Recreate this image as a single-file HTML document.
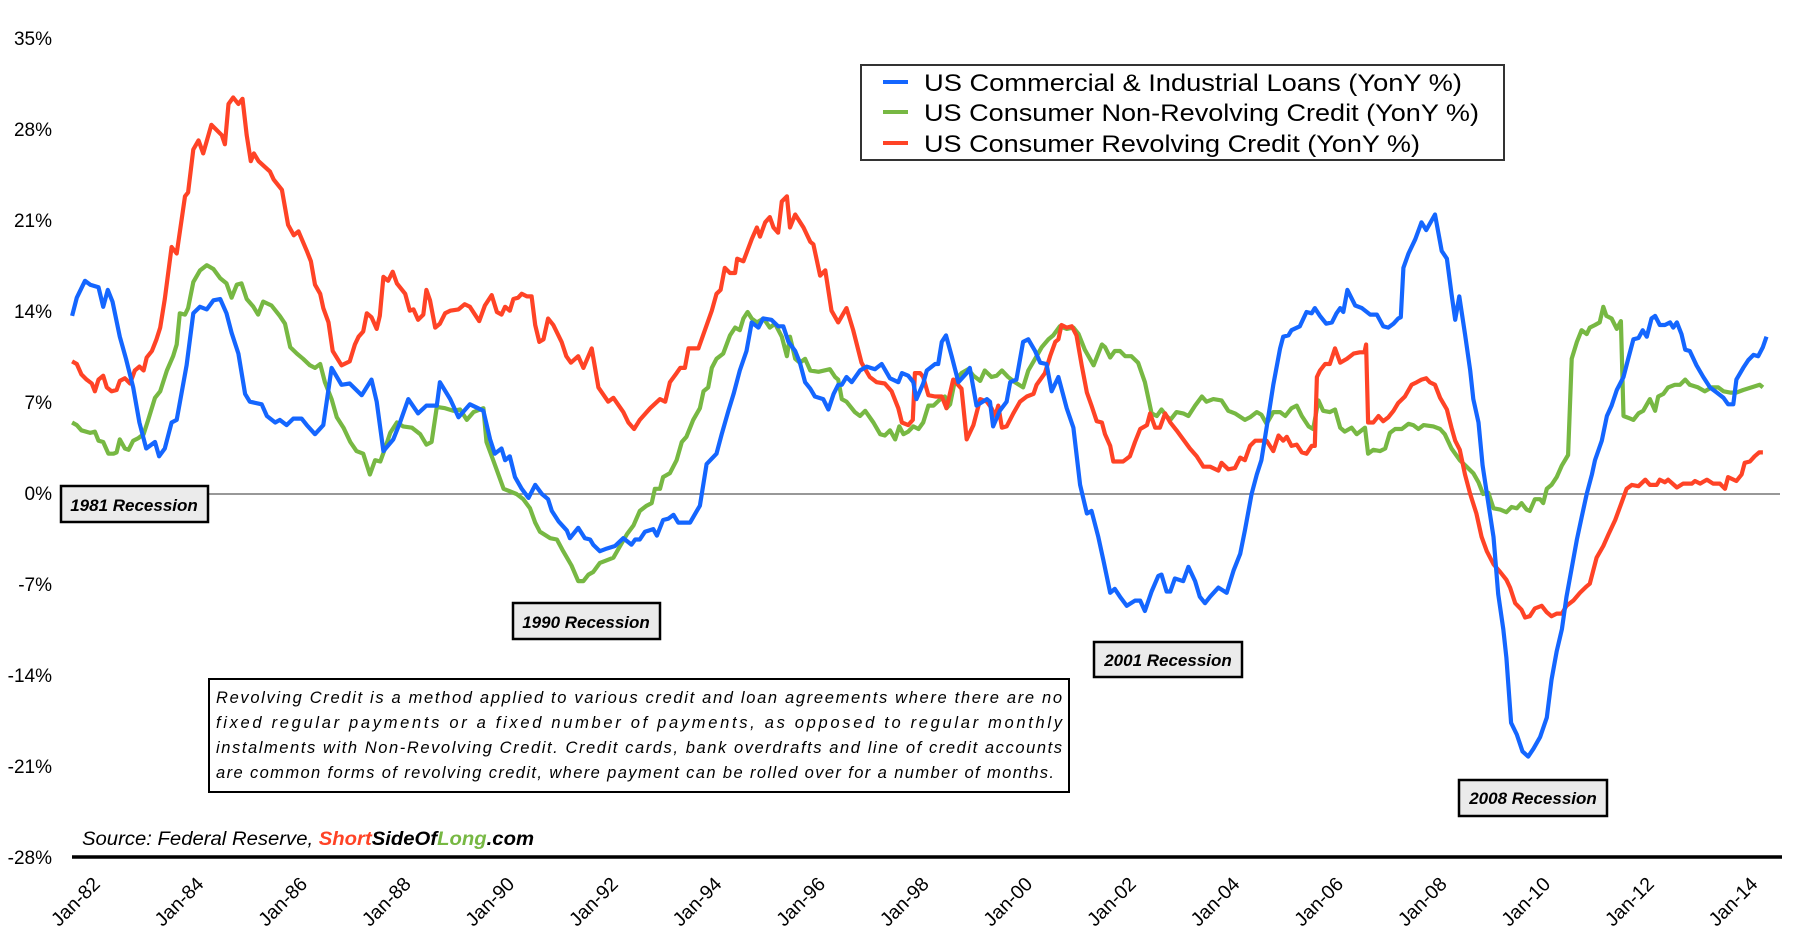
<!DOCTYPE html>
<html><head><meta charset="utf-8">
<style>
html,body{margin:0;padding:0;background:#fff;}
svg{display:block;font-family:"Liberation Sans","DejaVu Sans",sans-serif;}
</style></head>
<body>
<svg id="chart" width="1802" height="950" viewBox="0 0 1802 950" xmlns="http://www.w3.org/2000/svg">
<rect x="0" y="0" width="1802" height="950" fill="#fff"/>
<g id="yaxis"></g>
<g id="xaxis"></g>
<line x1="72" y1="494" x2="1780" y2="494" stroke="#777" stroke-width="1.5"/>
<g id="series"></g>
<line x1="72" y1="857" x2="1782" y2="857" stroke="#000" stroke-width="3.5"/>

<g>
<rect x="861" y="65" width="643" height="95" fill="#fff" stroke="#333" stroke-width="2"/>
<g>
<line x1="883" y1="82" x2="908" y2="82" stroke="#1466ff" stroke-width="4"/>
<text x="924" y="91" font-size="24" fill="#000" textLength="538" lengthAdjust="spacingAndGlyphs">US Commercial &amp; Industrial Loans (YonY %)</text></g>
<g>
<line x1="883" y1="112" x2="908" y2="112" stroke="#77b843" stroke-width="4"/>
<text x="924" y="121" font-size="24" fill="#000" textLength="555" lengthAdjust="spacingAndGlyphs">US Consumer Non-Revolving Credit (YonY %)</text></g>
<g>
<line x1="883" y1="143" x2="908" y2="143" stroke="#ff4326" stroke-width="4"/>
<text x="924" y="152" font-size="24" fill="#000" textLength="496" lengthAdjust="spacingAndGlyphs">US Consumer Revolving Credit (YonY %)</text></g>
</g>

<g>
<rect x="61" y="486" width="147" height="36" fill="#ebebeb" stroke="#000" stroke-width="2.5"/>
<text x="134" y="511" font-size="17" font-style="italic" font-weight="bold" text-anchor="middle">1981 Recession</text></g>
<g>
<rect x="513" y="603" width="147" height="36" fill="#ebebeb" stroke="#000" stroke-width="2.5"/>
<text x="586" y="628" font-size="17" font-style="italic" font-weight="bold" text-anchor="middle">1990 Recession</text></g>
<g>
<rect x="1094" y="642" width="148" height="35" fill="#ebebeb" stroke="#000" stroke-width="2.5"/>
<text x="1168" y="666" font-size="17" font-style="italic" font-weight="bold" text-anchor="middle">2001 Recession</text></g>
<g>
<rect x="1459" y="780" width="148" height="36" fill="#ebebeb" stroke="#000" stroke-width="2.5"/>
<text x="1533" y="804" font-size="17" font-style="italic" font-weight="bold" text-anchor="middle">2008 Recession</text></g>

<g>
<rect x="209" y="679" width="860" height="113" fill="#fff" stroke="#000" stroke-width="2"/>
<g font-size="16.5" font-style="italic" fill="#000">
<text x="216" y="703" textLength="846" lengthAdjust="spacing">Revolving Credit is a method applied to various credit and loan agreements where there are no</text>
<text x="216" y="728" textLength="846" lengthAdjust="spacing">fixed regular payments or a fixed number of payments, as opposed to regular monthly</text>
<text x="216" y="753" textLength="846" lengthAdjust="spacing">instalments with Non-Revolving Credit. Credit cards, bank overdrafts and line of credit accounts</text>
<text x="216" y="778" textLength="838" lengthAdjust="spacing">are common forms of revolving credit, where payment can be rolled over for a number of months.</text>
</g></g>

<text x="82" y="845" font-size="19.5" font-style="italic" fill="#000" textLength="452" lengthAdjust="spacingAndGlyphs">Source: Federal Reserve, <tspan font-weight="bold" fill="#ff4326">Short</tspan><tspan font-weight="bold">SideOf</tspan><tspan font-weight="bold" fill="#77b843">Long</tspan><tspan font-weight="bold">.com</tspan></text>
</svg>
<script>
const yTicks = [35,28,21,14,7,0,-7,-14,-21,-28];
const xTickYears = [1982,1984,1986,1988,1990,1992,1994,1996,1998,2000,2002,2004,2006,2008,2010,2012,2014];
const xTickLabels = ["Jan-82","Jan-84","Jan-86","Jan-88","Jan-90","Jan-92","Jan-94","Jan-96","Jan-98","Jan-00","Jan-02","Jan-04","Jan-06","Jan-08","Jan-10","Jan-12","Jan-14"];

const ciTime = [1981.50,1981.59,1981.75,1981.85,1982.01,1982.10,1982.19,1982.28,1982.42,1982.54,1982.68,1982.80,1982.93,1983.10,1983.18,1983.29,1983.42,1983.52,1983.71,1983.84,1983.97,1984.10,1984.23,1984.36,1984.48,1984.58,1984.71,1984.84,1984.93,1985.16,1985.26,1985.42,1985.51,1985.64,1985.77,1985.93,1986.03,1986.19,1986.35,1986.51,1986.70,1986.86,1987.09,1987.28,1987.38,1987.51,1987.70,1987.83,1987.99,1988.18,1988.34,1988.54,1988.60,1988.80,1988.96,1989.18,1989.44,1989.57,1989.66,1989.79,1989.86,1989.95,1990.05,1990.18,1990.31,1990.44,1990.57,1990.69,1990.76,1990.89,1991.05,1991.11,1991.27,1991.40,1991.50,1991.56,1991.69,1991.82,1991.98,1992.14,1992.30,1992.37,1992.46,1992.56,1992.72,1992.79,1992.91,1993.01,1993.11,1993.20,1993.43,1993.56,1993.62,1993.75,1993.94,1994.04,1994.17,1994.27,1994.39,1994.52,1994.62,1994.75,1994.84,1995.00,1995.13,1995.23,1995.33,1995.46,1995.55,1995.65,1995.75,1995.84,1996.00,1996.10,1996.20,1996.29,1996.36,1996.45,1996.55,1996.71,1996.84,1997.00,1997.13,1997.29,1997.45,1997.52,1997.64,1997.74,1997.80,1997.93,1998.00,1998.16,1998.22,1998.29,1998.37,1998.48,1998.61,1998.77,1998.83,1998.96,1999.16,1999.22,1999.28,1999.41,1999.54,1999.61,1999.73,1999.86,1999.96,2000.09,2000.19,2000.31,2000.41,2000.54,2000.70,2000.83,2000.96,2001.09,2001.18,2001.31,2001.41,2001.54,2001.63,2001.73,2001.86,2002.02,2002.12,2002.21,2002.34,2002.47,2002.53,2002.63,2002.70,2002.79,2002.95,2003.05,2003.18,2003.27,2003.37,2003.47,2003.63,2003.79,2003.92,2004.05,2004.14,2004.27,2004.37,2004.46,2004.56,2004.69,2004.82,2004.88,2004.98,2005.04,2005.20,2005.33,2005.43,2005.49,2005.59,2005.71,2005.82,2005.91,2005.98,2006.04,2006.12,2006.27,2006.40,2006.56,2006.69,2006.81,2006.91,2007.01,2007.10,2007.15,2007.20,2007.30,2007.43,2007.55,2007.64,2007.81,2007.94,2008.04,2008.13,2008.20,2008.28,2008.39,2008.49,2008.55,2008.65,2008.73,2008.84,2008.94,2009.03,2009.13,2009.19,2009.28,2009.39,2009.50,2009.61,2009.71,2009.84,2009.97,2010.06,2010.16,2010.26,2010.35,2010.45,2010.55,2010.64,2010.74,2010.84,2010.90,2011.03,2011.13,2011.22,2011.32,2011.45,2011.54,2011.64,2011.74,2011.82,2011.90,2011.99,2012.06,2012.15,2012.25,2012.35,2012.41,2012.48,2012.57,2012.64,2012.73,2012.86,2012.99,2013.12,2013.25,2013.38,2013.47,2013.57,2013.63,2013.76,2013.86,2013.96,2014.05,2014.14,2014.21];
const ciValues = [13.7,15.1,16.4,16.1,15.9,14.4,15.7,14.8,12.1,10.4,8.2,5.5,3.5,4.0,2.9,3.5,5.5,5.7,9.9,13.9,14.4,14.2,14.9,15.0,13.9,12.4,10.8,7.7,7.1,6.9,6.0,5.5,5.7,5.3,5.8,5.8,5.3,4.6,5.3,9.7,8.4,8.5,7.6,8.8,7.1,3.3,4.2,5.5,7.3,6.2,6.8,6.8,8.6,7.3,5.9,6.9,6.4,4.2,3.1,3.5,2.6,2.9,1.3,0.4,-0.3,0.7,0.0,-0.4,-1.3,-2.1,-2.8,-3.4,-2.6,-3.4,-3.5,-3.9,-4.4,-4.2,-4.0,-3.4,-3.9,-3.5,-3.5,-2.9,-2.7,-3.2,-2.0,-1.9,-1.6,-2.2,-2.2,-1.3,-0.9,2.3,3.1,4.6,6.4,7.7,9.5,11.0,13.2,12.8,13.5,13.4,12.9,12.9,11.7,11.0,10.1,8.6,8.1,7.5,7.3,6.5,7.7,8.4,8.4,9.0,8.6,9.5,9.8,9.6,10.0,8.9,8.6,9.3,9.1,8.6,7.3,8.5,9.5,10.0,10.0,11.7,12.2,10.6,8.6,9.3,9.7,6.8,7.3,7.1,5.2,6.4,7.1,8.6,8.8,11.7,11.9,11.0,10.1,10.0,7.9,9.0,6.6,5.1,0.7,-1.5,-1.3,-3.3,-5.1,-7.6,-7.3,-7.9,-8.6,-8.2,-8.2,-9.0,-7.5,-6.3,-6.2,-7.5,-7.5,-6.5,-6.7,-5.6,-6.7,-7.9,-8.4,-7.9,-7.2,-7.6,-5.9,-4.6,-2.8,0.0,1.5,2.6,5.1,8.4,11.2,12.1,12.2,12.6,12.9,14.0,13.9,14.3,13.7,13.1,13.2,13.9,14.3,14.0,15.7,14.5,14.3,13.8,13.8,12.9,12.8,13.1,13.5,13.6,17.4,18.5,19.6,20.9,20.3,21.5,18.7,18.1,15.4,13.4,15.2,12.3,9.5,7.3,5.5,2.2,-0.7,-3.3,-7.7,-10.4,-12.6,-17.6,-18.5,-19.8,-20.2,-19.6,-18.7,-17.2,-14.3,-12.1,-10.4,-7.9,-5.7,-3.5,-1.8,0.0,1.5,2.6,4.1,6.0,6.8,8.0,9.0,10.4,11.9,12.0,12.6,12.1,13.5,13.7,13.0,13.0,13.2,12.8,13.2,12.3,11.1,11.0,9.9,9.0,8.2,7.8,7.4,6.9,6.9,8.8,9.7,10.3,10.7,10.6,11.3,12.1];

const nrTime = [1981.50,1981.59,1981.68,1981.85,1981.94,1982.01,1982.10,1982.20,1982.30,1982.36,1982.42,1982.52,1982.59,1982.68,1982.78,1982.88,1982.97,1983.10,1983.20,1983.33,1983.45,1983.52,1983.58,1983.68,1983.74,1983.84,1983.97,1984.10,1984.23,1984.36,1984.48,1984.58,1984.68,1984.77,1984.87,1985.00,1985.09,1985.19,1985.35,1985.51,1985.61,1985.71,1985.84,1985.96,1986.09,1986.19,1986.29,1986.38,1986.51,1986.61,1986.74,1986.87,1986.99,1987.12,1987.25,1987.35,1987.45,1987.54,1987.64,1987.77,1987.89,1988.06,1988.22,1988.34,1988.44,1988.54,1988.70,1988.86,1988.99,1989.12,1989.25,1989.44,1989.50,1989.63,1989.83,1990.08,1990.21,1990.34,1990.44,1990.53,1990.73,1990.86,1990.98,1991.14,1991.27,1991.37,1991.47,1991.56,1991.69,1991.82,1991.95,1992.08,1992.21,1992.34,1992.46,1992.59,1992.69,1992.75,1992.85,1992.91,1993.04,1993.17,1993.27,1993.36,1993.43,1993.49,1993.62,1993.69,1993.78,1993.85,1993.94,1994.07,1994.20,1994.30,1994.39,1994.46,1994.54,1994.62,1994.72,1994.85,1994.97,1995.07,1995.20,1995.30,1995.36,1995.46,1995.55,1995.65,1995.75,1995.91,1996.13,1996.23,1996.29,1996.36,1996.45,1996.61,1996.71,1996.81,1996.97,1997.10,1997.19,1997.29,1997.39,1997.47,1997.55,1997.64,1997.74,1997.84,1997.93,1998.03,1998.13,1998.26,1998.35,1998.38,1998.45,1998.54,1998.67,1998.80,1998.90,1999.03,1999.12,1999.25,1999.35,1999.45,1999.57,1999.70,1999.86,1999.96,2000.09,2000.22,2000.35,2000.44,2000.57,2000.70,2000.83,2000.93,2001.05,2001.22,2001.38,2001.44,2001.54,2001.63,2001.73,2001.83,2001.95,2002.08,2002.21,2002.34,2002.44,2002.53,2002.63,2002.70,2002.82,2002.95,2003.05,2003.18,2003.31,2003.40,2003.53,2003.69,2003.82,2003.95,2004.14,2004.24,2004.37,2004.46,2004.56,2004.69,2004.82,2004.92,2005.04,2005.14,2005.24,2005.37,2005.46,2005.56,2005.65,2005.78,2005.88,2005.98,2006.07,2006.20,2006.30,2006.46,2006.52,2006.62,2006.75,2006.85,2006.94,2007.04,2007.17,2007.30,2007.39,2007.49,2007.59,2007.78,2007.91,2008.00,2008.13,2008.29,2008.42,2008.55,2008.65,2008.74,2008.84,2008.94,2009.07,2009.19,2009.29,2009.39,2009.48,2009.58,2009.64,2009.74,2009.84,2009.90,2009.97,2010.06,2010.16,2010.26,2010.38,2010.45,2010.55,2010.64,2010.74,2010.80,2010.90,2010.99,2011.06,2011.12,2011.22,2011.32,2011.40,2011.45,2011.58,2011.64,2011.74,2011.83,2011.96,2012.06,2012.12,2012.22,2012.31,2012.44,2012.54,2012.64,2012.73,2012.89,2013.02,2013.15,2013.28,2013.38,2013.51,2013.63,2013.76,2013.92,2014.08,2014.14];
const nrValues = [5.5,5.3,4.9,4.7,4.8,4.1,4.0,3.1,3.1,3.2,4.2,3.5,3.4,4.1,4.3,4.6,5.7,7.4,7.9,9.5,10.6,11.5,13.9,13.8,14.3,16.3,17.2,17.6,17.3,16.6,16.2,15.1,16.1,16.2,15.0,14.4,13.8,14.8,14.5,13.7,13.1,11.3,10.8,10.4,9.9,9.7,10.0,8.6,7.3,5.9,5.1,4.0,3.3,3.1,1.5,2.6,2.5,3.5,4.7,5.5,5.2,5.1,4.6,3.8,4.0,6.7,6.6,6.4,6.5,5.7,6.3,6.6,4.0,2.6,0.4,0.0,-0.4,-1.1,-2.2,-2.9,-3.4,-3.5,-4.4,-5.5,-6.7,-6.7,-6.2,-6.0,-5.3,-5.1,-4.9,-4.0,-3.1,-2.4,-1.3,-0.9,-0.7,0.4,0.4,1.3,1.6,2.6,4.0,4.4,5.1,5.7,6.6,7.9,8.2,9.7,10.4,10.8,12.2,12.8,12.6,13.5,14.0,13.5,13.2,13.5,12.8,13.1,12.1,10.6,12.1,10.4,10.1,10.4,9.5,9.4,9.6,9.0,8.8,7.3,7.1,6.3,6.0,6.4,5.5,4.6,4.5,4.9,4.2,5.2,4.6,4.8,5.2,5.0,5.5,6.8,6.8,7.3,7.5,6.6,6.9,8.7,9.3,9.6,9.1,8.7,9.5,9.0,9.1,9.5,9.0,8.6,8.2,9.5,10.4,11.3,11.9,12.2,12.9,12.7,12.8,12.3,11.1,9.9,11.5,11.3,10.5,11.0,11.0,10.6,10.6,10.1,8.6,6.2,6.0,6.5,6.0,5.7,6.3,6.2,6.0,6.8,7.5,7.1,7.3,7.2,6.4,6.2,5.7,5.9,6.3,6.1,5.4,6.3,6.3,6.0,6.6,6.8,6.0,5.2,5.0,7.2,6.4,6.3,6.5,5.1,4.8,5.1,4.6,5.1,3.1,3.4,3.3,3.5,4.7,5.0,5.0,5.4,5.3,5.0,5.3,5.2,5.0,4.6,3.5,2.6,2.1,1.6,0.9,0.0,0.1,-1.1,-1.2,-1.4,-1.0,-1.1,-0.7,-1.2,-1.3,-0.4,-0.4,-0.7,0.4,0.7,1.3,2.2,3.0,10.4,11.7,12.6,12.3,12.8,13.0,13.2,14.4,13.7,13.5,12.7,13.3,6.0,5.8,5.7,6.2,6.4,7.3,6.4,7.5,7.7,8.2,8.4,8.4,8.8,8.4,8.2,7.9,8.2,8.2,7.9,7.8,7.8,8.0,8.2,8.4,8.2];

const rvTime = [1981.50,1981.59,1981.68,1981.78,1981.88,1981.94,1982.01,1982.10,1982.17,1982.26,1982.36,1982.42,1982.52,1982.62,1982.71,1982.80,1982.88,1982.94,1983.04,1983.13,1983.20,1983.29,1983.42,1983.52,1983.68,1983.74,1983.84,1983.94,1984.03,1984.19,1984.39,1984.45,1984.52,1984.61,1984.71,1984.79,1984.87,1984.95,1985.01,1985.10,1985.32,1985.39,1985.55,1985.67,1985.78,1985.87,1986.03,1986.11,1986.19,1986.29,1986.35,1986.45,1986.53,1986.70,1986.86,1986.96,1987.03,1987.12,1987.19,1987.28,1987.38,1987.44,1987.51,1987.60,1987.69,1987.77,1987.93,1988.02,1988.09,1988.18,1988.28,1988.34,1988.41,1988.51,1988.60,1988.70,1988.80,1988.96,1989.08,1989.18,1989.36,1989.47,1989.60,1989.70,1989.79,1989.86,1989.95,1990.02,1990.11,1990.18,1990.28,1990.37,1990.44,1990.52,1990.60,1990.69,1990.79,1990.95,1991.04,1991.13,1991.27,1991.37,1991.53,1991.66,1991.85,1991.95,1992.14,1992.24,1992.35,1992.46,1992.66,1992.85,1992.95,1993.04,1993.17,1993.24,1993.33,1993.40,1993.59,1993.69,1993.85,1993.94,1994.02,1994.10,1994.20,1994.30,1994.34,1994.46,1994.62,1994.72,1994.78,1994.88,1994.97,1995.04,1995.13,1995.20,1995.30,1995.36,1995.46,1995.62,1995.75,1995.81,1995.94,1996.04,1996.16,1996.29,1996.45,1996.58,1996.74,1996.90,1997.03,1997.19,1997.32,1997.45,1997.52,1997.64,1997.73,1997.77,1997.87,1997.93,1998.03,1998.16,1998.29,1998.38,1998.51,1998.67,1998.77,1998.90,1999.03,1999.16,1999.25,1999.32,1999.38,1999.45,1999.54,1999.67,1999.80,1999.93,2000.06,2000.12,2000.28,2000.38,2000.48,2000.54,2000.60,2000.70,2000.80,2000.89,2000.99,2001.09,2001.18,2001.28,2001.38,2001.44,2001.54,2001.60,2001.79,2001.92,2002.02,2002.12,2002.25,2002.31,2002.41,2002.50,2002.60,2002.70,2002.82,2002.95,2003.08,2003.21,2003.34,2003.47,2003.63,2003.69,2003.82,2003.95,2004.05,2004.14,2004.24,2004.34,2004.43,2004.56,2004.69,2004.79,2004.88,2004.95,2005.04,2005.14,2005.24,2005.33,2005.43,2005.49,2005.53,2005.59,2005.69,2005.78,2005.88,2005.98,2006.11,2006.24,2006.36,2006.45,2006.48,2006.52,2006.62,2006.72,2006.81,2006.91,2007.01,2007.10,2007.23,2007.36,2007.46,2007.55,2007.64,2007.71,2007.81,2007.91,2008.04,2008.13,2008.20,2008.29,2008.39,2008.49,2008.61,2008.71,2008.81,2008.94,2009.07,2009.19,2009.26,2009.36,2009.48,2009.55,2009.64,2009.74,2009.87,2009.97,2010.06,2010.16,2010.26,2010.35,2010.48,2010.61,2010.74,2010.80,2010.93,2011.06,2011.16,2011.29,2011.41,2011.51,2011.61,2011.74,2011.87,2011.96,2012.09,2012.15,2012.25,2012.31,2012.48,2012.60,2012.77,2012.83,2012.93,2013.06,2013.18,2013.31,2013.41,2013.47,2013.63,2013.73,2013.79,2013.89,2013.98,2014.07,2014.14];
const rvValues = [10.2,10.0,9.2,8.8,8.5,7.9,8.8,9.1,8.2,7.9,8.0,8.7,8.9,8.5,9.5,9.8,9.5,10.5,11.0,11.9,12.8,15.0,19.0,18.5,22.9,23.2,26.5,27.2,26.2,28.4,27.6,26.9,30.0,30.5,30.0,30.4,27.6,25.6,26.2,25.6,24.8,24.2,23.4,20.7,19.9,20.2,18.7,17.9,16.1,15.4,14.3,13.2,11.0,9.9,10.2,11.5,12.1,12.5,13.9,13.6,12.7,13.7,16.7,16.4,17.1,16.2,15.4,14.1,14.2,13.4,13.8,15.7,14.9,12.8,13.1,13.9,14.1,14.2,14.6,14.4,13.3,14.5,15.3,14.0,13.8,14.4,14.1,15.0,15.1,15.4,15.2,15.2,13.0,11.7,11.9,13.5,13.0,11.7,10.6,10.1,10.6,9.7,11.2,8.2,7.1,7.4,6.3,5.5,5.0,5.7,6.6,7.3,7.1,8.6,9.3,9.7,9.7,11.2,11.2,12.3,14.1,15.4,15.7,17.4,17.0,17.0,18.1,17.9,19.6,20.5,19.8,20.9,21.3,20.5,20.1,22.5,22.9,20.5,21.5,20.5,19.4,19.2,16.8,17.2,14.1,13.2,14.3,12.6,10.1,9.0,8.6,8.5,7.9,6.6,5.5,5.3,5.7,9.3,9.3,9.0,7.6,7.5,7.5,6.6,8.8,8.1,4.2,5.3,7.3,7.1,6.6,6.0,6.8,5.1,5.2,6.2,7.1,7.5,7.7,8.4,9.3,10.6,11.7,11.9,13.0,12.8,12.9,12.2,9.9,7.8,6.8,5.6,5.5,4.6,3.7,2.5,2.5,2.9,4.0,5.0,5.3,6.2,5.1,5.1,6.2,5.5,4.9,4.2,3.5,2.9,2.1,2.1,1.8,2.4,1.9,2.0,2.8,2.6,3.7,4.1,4.1,4.1,3.3,4.5,4.1,4.4,3.7,3.8,3.2,3.1,3.7,3.7,9.0,9.5,10.0,10.0,11.2,10.1,10.4,10.8,10.9,10.9,11.5,5.5,5.5,6.0,5.6,5.9,6.4,7.0,7.5,8.4,8.6,8.8,8.9,8.6,8.4,7.4,6.5,5.1,4.1,3.4,1.5,0.0,-1.5,-3.3,-4.4,-5.4,-6.0,-6.6,-7.2,-8.4,-8.9,-9.5,-9.4,-8.8,-8.6,-9.1,-9.4,-9.2,-9.2,-8.6,-8.2,-7.6,-7.1,-6.9,-4.9,-4.0,-3.1,-2.0,-0.7,0.4,0.7,0.6,1.1,0.7,0.7,1.1,0.9,1.1,0.5,0.8,0.8,1.0,0.8,1.1,0.8,0.8,0.4,1.3,1.0,1.5,2.4,2.5,2.9,3.2,3.2];

const NS = "http://www.w3.org/2000/svg";
function xScale(t){ return 98 + (t - 1982) * 51.8; }
function yScale(v){ return 494 - v * 13.0; }

const yAxis = document.getElementById('yaxis');
yTicks.forEach(function(v){
  const t = document.createElementNS(NS,'text');
  
  
  t.setAttribute('x', 52);
  t.setAttribute('y', yScale(v) + 6);
  t.setAttribute('text-anchor','end');
  t.setAttribute('font-size','19');
  t.textContent = v + '%';
  yAxis.appendChild(t);
});

const xAxis = document.getElementById('xaxis');
xTickYears.forEach(function(yr, i){
  const x = xScale(yr);
  const t = document.createElementNS(NS,'text');
  
  
  t.setAttribute('transform','translate(' + (x - 6) + ',' + 876 + ') rotate(-45)');
  t.setAttribute('text-anchor','end');
  t.setAttribute('font-size','19.5');
  t.setAttribute('dy','13');
  t.textContent = xTickLabels[i];
  xAxis.appendChild(t);
});

const seriesG = document.getElementById('series');
function drawLine(times, vals, color, name){
  let d = '';
  for (let i = 0; i < times.length; i++){
    d += (i ? 'L' : 'M') + xScale(times[i]).toFixed(1) + ',' + yScale(vals[i]).toFixed(1);
  }
  const p = document.createElementNS(NS,'path');
  
  
  p.setAttribute('d', d);
  p.setAttribute('fill','none');
  p.setAttribute('stroke', color);
  p.setAttribute('stroke-width','4.2');
  p.setAttribute('stroke-linejoin','round');
  seriesG.appendChild(p);
}
drawLine(nrTime, nrValues, '#77b843', 'non-revolving-credit-line');
drawLine(rvTime, rvValues, '#ff4326', 'revolving-credit-line');
drawLine(ciTime, ciValues, '#1466ff', 'ci-loans-line');
</script>
</body></html>
